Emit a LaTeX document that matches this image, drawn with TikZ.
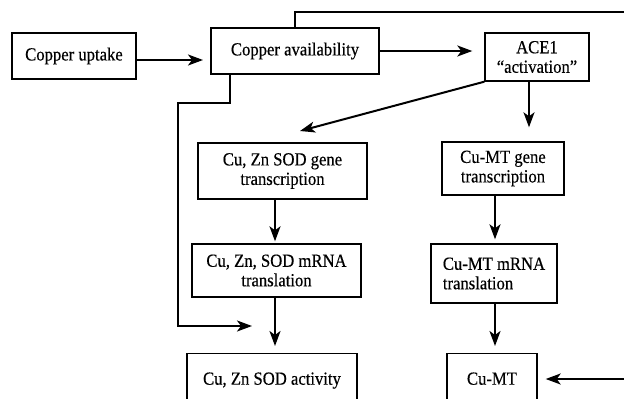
\documentclass[tikz,border=0pt]{standalone}
\usepackage{fontspec}
\setmainfont{Liberation Serif}[FakeStretch=0.9,FakeBold=0.4]
\usetikzlibrary{arrows.meta}
\begin{document}
\begin{tikzpicture}[x=1pt,y=-1pt,
  box/.style={draw,line width=1.4pt,inner sep=0pt,align=center,font=\fontsize{18.5}{19.5}\selectfont},
  openbox/.style={box,anchor=north,text height=31pt,text depth=40pt},
  conn/.style={line width=2pt},
  arr/.style={conn,-{Stealth[length=15pt,width=11pt,inset=4pt]}}]
\useasboundingbox (0,0) rectangle (624,399);
\clip (0,0) rectangle (624,399);

\node[box,minimum width=124pt,minimum height=46pt] (uptake) at (74,56) {Copper uptake};
\node[box,minimum width=168pt,minimum height=46pt] (avail) at (295,51) {Copper availability};
\node[box,minimum width=104pt,minimum height=48pt] (ace) at (537,57) {ACE1\\“activation”};
\node[box,minimum width=169pt,minimum height=56pt] (sodgene) at (282.5,171) {Cu, Zn SOD gene\\transcription};
\node[box,minimum width=169pt,minimum height=53pt] (sodmrna) at (276.5,270.5) {Cu, Zn, SOD mRNA\\translation};
\node[openbox,minimum width=170pt] (sodact) at (272,353) {Cu, Zn SOD activity};
\node[box,minimum width=122pt,minimum height=53pt] (mtgene) at (503,168.5) {Cu-MT gene\\transcription};
\node[box,align=left,minimum width=126pt,minimum height=59pt] (mtmrna) at (494,273.5) {Cu-MT mRNA\\translation};
\node[openbox,minimum width=90pt] (cumt) at (492,353) {Cu-MT};

% connectors
\coordinate (a1) at (203,60);
\draw[arr] (uptake.east |- a1) -- (a1);
\draw[arr,shorten >=12pt] (avail.east) -- (ace.west |- avail.east);
\coordinate (topR) at (640,12);
\draw[conn] (avail.north) -- (avail.north |- topR) -- (topR);
\coordinate (ax) at (529,0);
\draw[arr,shorten >=14pt] (ace.south -| ax) -- (mtgene.north -| ax);
\coordinate (dtip) at (300,131);
\draw[arr] (ace.south west) -- (dtip);
\coordinate (l0) at (230,0);
\coordinate (l1) at (178,103);
\coordinate (l2) at (252,326);
\draw[arr] (avail.south -| l0) -- (l0 |- l1) -- (l1) -- (l1 |- l2) -- (l2);
\coordinate (sx) at (275,0);
\draw[arr,shorten >=2pt] (sodgene.south -| sx) -- (sodmrna.north -| sx);
\draw[arr,shorten >=7pt] (sodmrna.south -| sx) -- (sodact.north -| sx);
\coordinate (mx) at (495,0);
\draw[arr,shorten >=4pt] (mtgene.south -| mx) -- (mtmrna.north -| mx);
\draw[arr,shorten >=7pt] (mtmrna.south -| mx) -- (cumt.north -| mx);
\coordinate (rin) at (640,379);
\draw[arr,shorten >=8pt] (rin) -- (cumt.east |- rin);
\end{tikzpicture}
\end{document}
